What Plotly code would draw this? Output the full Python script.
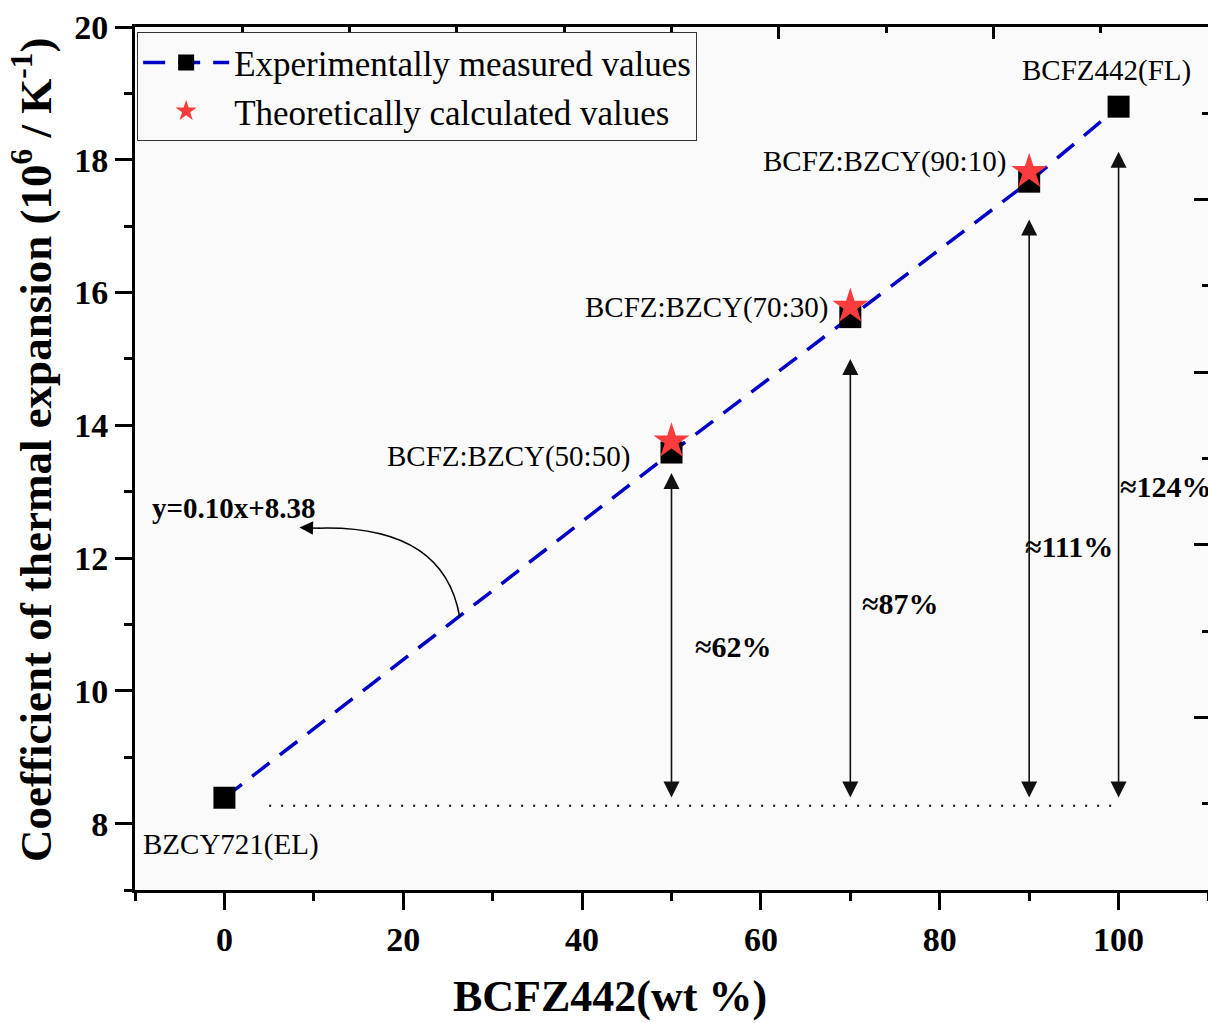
import plotly.graph_objects as go

# ---------------- data ----------------
wt_exp = [0, 50, 70, 90, 100]
cte_exp = [8.39, 13.59, 15.63, 17.67, 18.80]
wt_theo = [50, 70, 90]
cte_theo = [13.76, 15.79, 17.82]

point_labels = ["BZCY721(EL)", "BCFZ:BZCY(50:50)", "BCFZ:BZCY(70:30)",
                "BCFZ:BZCY(90:10)", "BCFZ442(FL)"]
label_x = [0.7, 45.6, 67.7, 87.6, 98.7]
label_y = [7.68, 13.53, 15.78, 17.98, 19.34]
label_anchor = ["center", "right", "right", "right", "center"]

arrow_x = [50, 70, 90, 100]
arrow_top = [13.28, 15.0, 17.1, 18.12]
arrow_bottom = [8.37, 8.37, 8.37, 8.37]
pct_text = ["≈62%", "≈87%", "≈111%", "≈124%"]
pct_x = [56.9, 75.6, 94.4, 99.9]
pct_y = [10.67, 11.31, 12.17, 13.08]
pct_anchor = ["center", "center", "center", "left"]

baseline_y = 8.27
baseline_x = [5, 100]

x_ticks = [0, 20, 40, 60, 80, 100]
y_ticks = [8, 10, 12, 14, 16, 18, 20]

FONT = "Liberation Serif"

fig = go.Figure()

fig.add_trace(go.Scatter(
    x=wt_exp, y=cte_exp, mode="lines+markers",
    name="Experimentally measured values",
    line=dict(color="rgb(0,0,200)", width=3.5, dash="22px,13px"),
    marker=dict(symbol="square", size=22, color="black"),
))
fig.add_trace(go.Scatter(
    x=wt_theo, y=cte_theo, mode="markers",
    name="Theoretically calculated values",
    marker=dict(symbol="star", size=27, color="rgb(250,60,60)"),
))
# empty trace to create the secondary (top/right) axes
fig.add_trace(go.Scatter(x=[], y=[], xaxis="x2", yaxis="y2", showlegend=False,
                         hoverinfo="skip"))

# dotted baseline
fig.add_shape(type="line", x0=baseline_x[0], x1=baseline_x[1], y0=baseline_y, y1=baseline_y,
              xref="x", yref="y", line=dict(color="black", width=2, dash="2px,10px"))

annotations = []
for t, x, y, a in zip(point_labels, label_x, label_y, label_anchor):
    annotations.append(dict(x=x, y=y, xref="x", yref="y", text=t, showarrow=False,
                            xanchor=a, yanchor="middle",
                            font=dict(family=FONT, size=29, color="black")))

for x, yt, yb in zip(arrow_x, arrow_top, arrow_bottom):
    annotations.append(dict(x=x, y=yt, ax=x, ay=yb, xref="x", yref="y", axref="x", ayref="y",
                            text="", showarrow=True, arrowhead=2, arrowside="end+start",
                            arrowsize=2.0, arrowwidth=1.6, arrowcolor="#111"))

for t, x, y, a in zip(pct_text, pct_x, pct_y, pct_anchor):
    annotations.append(dict(x=x, y=y, xref="x", yref="y", text="<b>%s</b>" % t, showarrow=False,
                            xanchor=a, yanchor="middle",
                            font=dict(family=FONT, size=30, color="black")))

# equation and curved arrow
annotations.append(dict(x=-8.3, y=12.76, xref="x", yref="y", text="<b>y=0.10x+8.38</b>",
                        showarrow=False, xanchor="left", yanchor="middle",
                        font=dict(family=FONT, size=29, color="black")))
fig.add_shape(type="path", path="M 26.3,11.12 Q 24.5,12.5 10.5,12.45",
              xref="x", yref="y", line=dict(color="black", width=1.5))
annotations.append(dict(x=8.4, y=12.46, ax=10.8, ay=12.45, xref="x", yref="y",
                        axref="x", ayref="y", text="", showarrow=True, arrowhead=2,
                        arrowsize=1.8, arrowwidth=1.5, arrowcolor="black"))

# axis titles
annotations.append(dict(x=0.443, y=-0.123, xref="paper", yref="paper",
                        text="<b>BCFZ442(wt %)</b>", showarrow=False,
                        xanchor="center", yanchor="middle",
                        font=dict(family=FONT, size=44, color="black")))
annotations.append(dict(x=-0.095, y=0.51, xref="paper", yref="paper",
                        text="<b>Coefficient of thermal expansion (10<sup>6</sup> / K<sup>-1</sup>)</b>",
                        showarrow=False, textangle=-90, xanchor="center", yanchor="middle",
                        font=dict(family=FONT, size=45, color="black")))

tickfont_x = dict(family=FONT, size=34, color="black", weight="bold")
tickfont_y = dict(family=FONT, size=34, color="black", weight="bold")

fig.update_layout(
    width=1208, height=1023,
    margin=dict(l=135, r=0, t=27, b=133),
    paper_bgcolor="white", plot_bgcolor="#fafafa",
    font=dict(family=FONT, color="black"),
    showlegend=True,
    legend=dict(x=0.002, y=0.994, xanchor="left", yanchor="top",
                bgcolor="#fafafa", bordercolor="#333", borderwidth=1,
                font=dict(family=FONT, size=35, color="black"),
                itemwidth=86, tracegroupgap=0),
    annotations=annotations,
    xaxis=dict(range=[-10, 110], tickvals=x_ticks,
               ticktext=["<b>%d</b>" % v for v in x_ticks],
               ticks="outside", ticklen=17, tickwidth=3,
               tickcolor="black", showline=True, linewidth=3, linecolor="black",
               showgrid=False, zeroline=False, tickfont=tickfont_x,
               minor=dict(ticks="outside", ticklen=8, tickwidth=3, dtick=10, tick0=0,
                          tickcolor="black")),
    yaxis=dict(range=[7, 20], tickvals=y_ticks,
               ticktext=["<b>%d</b>" % v for v in y_ticks],
               ticks="outside", ticklen=17, tickwidth=3,
               tickcolor="black", showline=True, linewidth=3, linecolor="black",
               showgrid=False, zeroline=False, tickfont=tickfont_y,
               minor=dict(ticks="outside", ticklen=8, tickwidth=3, dtick=1, tick0=0,
                          tickcolor="black")),
    xaxis2=dict(overlaying="x", side="top", anchor="y", range=[0, 5], dtick=1,
                ticks="inside", ticklen=12, tickwidth=3, tickcolor="black",
                showline=True, linewidth=3, linecolor="black",
                showticklabels=False, showgrid=False, zeroline=False,
                minor=dict(ticks="inside", ticklen=6, tickwidth=3, dtick=0.5,
                           tickcolor="black")),
    yaxis2=dict(overlaying="y", side="right", anchor="x", range=[0, 5], dtick=1,
                ticks="inside", ticklen=14, tickwidth=3, tickcolor="black",
                showline=False, showticklabels=False, showgrid=False, zeroline=False,
                minor=dict(ticks="inside", ticklen=6, tickwidth=3, dtick=0.5,
                           tickcolor="black")),
)

fig.write_html("out.html")
